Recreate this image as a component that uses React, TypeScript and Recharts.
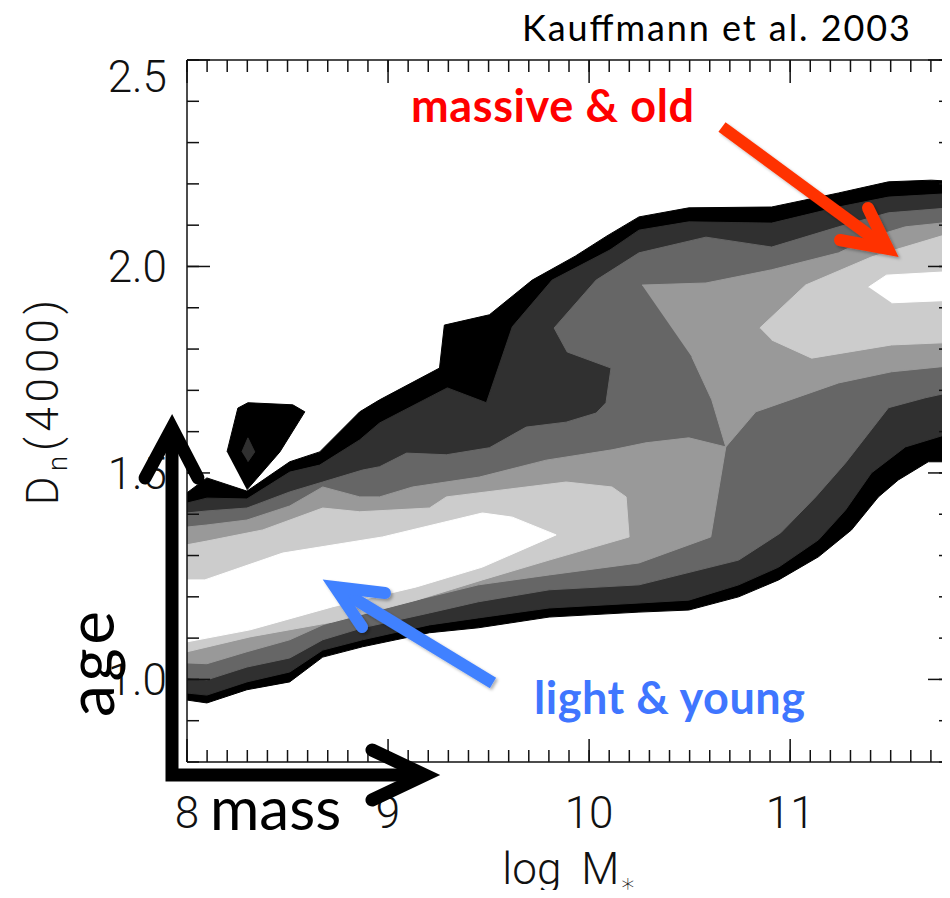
import React from "react";
import { ComposedChart, Scatter, XAxis, YAxis } from "recharts";

type Pt = [number, number];

// axes: log M* (x) against Dn(4000) (y)
const X_DOMAIN: [number, number] = [8, 11.8];
const Y_DOMAIN: [number, number] = [0.8, 2.5];
const X_LABEL_TICKS = [8, 9, 10, 11];
const Y_LABEL_TICKS = [1.0, 1.5, 2.0, 2.5];

const tenths = (from: number, to: number) => {
  const out: number[] = [];
  for (let v = Math.round(from * 10); v <= Math.round(to * 10); v++) out.push(v / 10);
  return out;
};
const X_MINOR_TICKS = tenths(8, 11.8);
const Y_MINOR_TICKS = tenths(0.8, 2.5);

// contour outlines, outermost level first (x = log M*, y = Dn(4000))
const BLACK_MAIN: Pt[] = [
  [8.0, 1.452], [8.099, 1.488], [8.298, 1.456], [8.511, 1.527], [8.66, 1.551], [8.859, 1.648],
  [8.958, 1.677], [9.256, 1.754], [9.28, 1.858], [9.504, 1.883], [9.717, 1.967], [9.931, 2.025],
  [10.089, 2.074], [10.248, 2.12], [10.496, 2.142], [10.908, 2.144], [11.241, 2.178], [11.489, 2.205],
  [11.702, 2.209], [11.85, 2.205], [11.85, 1.527], [11.687, 1.527], [11.538, 1.483], [11.439, 1.442],
  [11.305, 1.362], [11.141, 1.297], [10.943, 1.241], [10.744, 1.2], [10.496, 1.168], [10.248, 1.163],
  [9.801, 1.151], [9.449, 1.125], [9.206, 1.113], [8.873, 1.079], [8.675, 1.054], [8.511, 0.994],
  [8.298, 0.975], [8.099, 0.943], [8.0, 0.95],
];
const BLACK_ISLAND: Pt[] = [
  [8.199, 1.551], [8.253, 1.657], [8.303, 1.67], [8.526, 1.665], [8.586, 1.648], [8.462, 1.551], [8.298, 1.459],
];
const DARK_ISLAND: Pt[] = [[8.273, 1.551], [8.303, 1.585], [8.337, 1.551], [8.303, 1.527]];
const DARK_MAIN: Pt[] = [
  [8.0, 1.427], [8.099, 1.439], [8.298, 1.437], [8.511, 1.502], [8.66, 1.519], [8.859, 1.58],
  [8.958, 1.621], [9.295, 1.706], [9.489, 1.67], [9.618, 1.854], [9.816, 1.967], [10.104, 2.04],
  [10.248, 2.088], [10.496, 2.108], [10.908, 2.105], [11.241, 2.144], [11.489, 2.168], [11.85, 2.178],
  [11.85, 1.604], [11.573, 1.563], [11.404, 1.5], [11.275, 1.41], [11.141, 1.338], [10.943, 1.272],
  [10.744, 1.229], [10.496, 1.192], [10.248, 1.185], [9.801, 1.173], [9.449, 1.149], [9.206, 1.132],
  [8.873, 1.096], [8.675, 1.071], [8.511, 1.018], [8.298, 0.994], [8.099, 0.962], [8.0, 0.967],
];
const MID_MAIN: Pt[] = [
  [8.0, 1.403], [8.099, 1.408], [8.298, 1.415], [8.511, 1.454], [8.675, 1.478], [8.873, 1.507],
  [8.958, 1.515], [9.092, 1.548], [9.29, 1.544], [9.504, 1.561], [9.687, 1.611], [9.886, 1.623],
  [10.035, 1.645], [10.084, 1.67], [10.109, 1.754], [9.891, 1.793], [9.826, 1.851], [10.035, 1.967],
  [10.248, 2.033], [10.581, 2.071], [10.908, 2.047], [11.241, 2.096], [11.489, 2.13], [11.85, 2.144],
  [11.85, 1.701], [11.672, 1.682], [11.489, 1.658], [11.275, 1.524], [11.127, 1.442], [10.953, 1.355],
  [10.744, 1.289], [10.248, 1.229], [9.801, 1.217], [9.449, 1.188], [9.206, 1.161], [8.873, 1.125],
  [8.675, 1.096], [8.511, 1.052], [8.298, 1.03], [8.099, 0.999], [8.0, 1.004],
];
const PALE_LOW: Pt[] = [
  [8.0, 1.369], [8.099, 1.374], [8.298, 1.386], [8.511, 1.42], [8.675, 1.466], [8.859, 1.442],
  [8.958, 1.442], [9.122, 1.466], [9.454, 1.49], [9.787, 1.531], [10.114, 1.556], [10.283, 1.573],
  [10.496, 1.585], [10.68, 1.563], [10.605, 1.345], [10.248, 1.282], [9.801, 1.253], [9.449, 1.229],
  [9.206, 1.2], [8.873, 1.163], [8.675, 1.132], [8.511, 1.096], [8.298, 1.067], [8.099, 1.038], [8.0, 1.04],
];
const PALE_HIGH: Pt[] = [
  [10.263, 1.955], [10.581, 1.96], [10.908, 1.992], [11.241, 2.033], [11.404, 2.071], [11.573, 2.096],
  [11.85, 2.11], [11.85, 1.762], [11.504, 1.745], [11.241, 1.718], [10.829, 1.648], [10.68, 1.563],
  [10.61, 1.677], [10.511, 1.781],
];
const LIGHT_LOW: Pt[] = [
  [8.0, 1.326], [8.099, 1.335], [8.377, 1.362], [8.675, 1.415], [8.859, 1.406], [9.206, 1.415],
  [9.29, 1.442], [9.886, 1.478], [10.114, 1.466], [10.184, 1.442], [10.199, 1.345], [9.801, 1.289],
  [9.469, 1.241], [9.141, 1.192], [8.725, 1.139], [8.313, 1.103], [8.0, 1.067],
];
const LIGHT_HIGH: Pt[] = [
  [10.849, 1.851], [11.077, 1.955], [11.404, 2.023], [11.85, 2.088], [11.85, 1.817], [11.504, 1.81],
  [11.107, 1.778], [10.908, 1.822],
];
const PEAK_LOW: Pt[] = [
  [8.0, 1.241], [8.089, 1.241], [8.476, 1.306], [8.973, 1.345], [9.469, 1.403], [9.618, 1.393],
  [9.836, 1.35], [9.469, 1.272], [9.141, 1.224], [8.725, 1.176], [8.313, 1.12], [8.0, 1.091],
];
const PEAK_HIGH: Pt[] = [[11.39, 1.95], [11.479, 1.979], [11.85, 1.989], [11.85, 1.919], [11.504, 1.912]];

const SHADES = ["#000000", "#303030", "#666666", "#999999", "#cccccc", "#ffffff"];

const BANDS: { level: number; outline: Pt[] }[] = [
  { level: 0, outline: BLACK_MAIN },
  { level: 0, outline: BLACK_ISLAND },
  { level: 1, outline: DARK_MAIN },
  { level: 1, outline: DARK_ISLAND },
  { level: 2, outline: MID_MAIN },
  { level: 3, outline: PALE_LOW },
  { level: 3, outline: PALE_HIGH },
  { level: 4, outline: LIGHT_LOW },
  { level: 4, outline: LIGHT_HIGH },
  { level: 5, outline: PEAK_LOW },
  { level: 5, outline: PEAK_HIGH },
];

const toPoints = (outline: Pt[]) => outline.map(([x, y]) => ({ x, y }));

const AXIS_FONT = "Roboto, 'DejaVu Sans', sans-serif";
const NOTE_FONT = "Lato, 'Open Sans', sans-serif";
const INK = "#111";
const AXIS_LINE = { stroke: INK, strokeWidth: 1.5 };
const TICK_LINE = { stroke: INK, strokeWidth: 1.5 };
const TICK_TEXT = { fontFamily: AXIS_FONT, fontSize: 44, fontWeight: 300, fill: INK };

// frame runs just past the right edge of the view, as in the original figure
const CHART_W = 960;
const CHART_H = 898;

const noDot = () => <g />;
// tick marks only, no label
const bareTick = () => <g />;

function YTick({ x, y, payload }: any) {
  const v = payload.value as number;
  // the top label sits just inside the frame
  const shift = v >= 2.5 ? 16 : 0;
  return (
    <text x={x} y={y + shift} dy="0.355em" textAnchor="end" {...TICK_TEXT}>
      {v.toFixed(1)}
    </text>
  );
}

function XTitle({ viewBox }: any) {
  const vb = viewBox ?? { x: 187, y: 762, width: 764, height: 136 };
  return (
    <text x={vb.x + vb.width / 2} y={vb.y + 122} textAnchor="middle" {...TICK_TEXT}>
      log<tspan dx={20}>M</tspan>
      <tspan fontSize={26} dy={8}>∗</tspan>
    </text>
  );
}

function YTitle({ viewBox }: any) {
  const vb = viewBox ?? { x: 0, y: 60, width: 187, height: 702 };
  const cy = vb.y + vb.height / 2 - 11;
  return (
    <text transform={`translate(58,${cy}) rotate(-90)`} textAnchor="middle" letterSpacing={5} {...TICK_TEXT}>
      D<tspan fontSize={28} dy={9}>n</tspan>
      <tspan dy={-9}>(4000)</tspan>
    </text>
  );
}

function Annotations() {
  return (
    <svg
      width={950}
      height={898}
      style={{ position: "absolute", left: 0, top: 0, pointerEvents: "none" }}
    >
      <defs>
        <filter id="soft" x="-20%" y="-20%" width="140%" height="140%">
          <feDropShadow dx="2" dy="2" stdDeviation="1.5" floodColor="#000" floodOpacity="0.3" />
        </filter>
      </defs>
      <text x={522} y={41} fontFamily={NOTE_FONT} fontSize={36} fill="#000" textLength={388}>
        Kauffmann et al. 2003
      </text>

      <text x={411} y={122} fontFamily={NOTE_FONT} fontWeight={700} fontSize={45} fill="#ff0000" textLength={283}>
        massive &amp; old
      </text>
      <g stroke="#ff3300" strokeWidth={12} fill="none" filter="url(#soft)">
        <line x1={722} y1={127} x2={888} y2={249} />
        <polyline points="840,240 888,249 868,208" strokeLinecap="round" strokeLinejoin="miter" />
      </g>

      <text x={534} y={714} fontFamily={NOTE_FONT} fontWeight={700} fontSize={45} fill="#3f76ff" textLength={271}>
        light &amp; young
      </text>
      <g stroke="#4181ff" strokeWidth={12} fill="none" filter="url(#soft)">
        <line x1={493} y1={683} x2={335} y2={587} />
        <polyline points="385,593 335,587 362,627" strokeLinecap="round" strokeLinejoin="miter" />
      </g>

      <g stroke="#000" strokeWidth={13} fill="none">
        <path d="M172,428 V775 H425" strokeLinejoin="miter" />
        <polyline points="145,478 172,428 198,478" strokeLinecap="round" strokeLinejoin="miter" />
        <polyline points="372,750 425,775 372,800" strokeLinecap="round" strokeLinejoin="miter" />
      </g>
      <text transform="translate(114,717) rotate(-90)" fontFamily={NOTE_FONT} fontSize={64} fill="#000" textLength={106}>
        age
      </text>
      <text x={210} y={830} fontFamily={NOTE_FONT} fontSize={60} fill="#000">
        mass
      </text>
    </svg>
  );
}

export default function App() {
  return (
    <div
      style={{
        position: "relative",
        width: 950,
        height: 898,
        overflow: "hidden",
        margin: -8,
        background: "#fff",
      }}
    >
      <div style={{ width: CHART_W, height: CHART_H }}>
        <ComposedChart width={CHART_W} height={CHART_H} margin={{ top: 40, right: 0, bottom: 0, left: 0 }}>
          {BANDS.map((band, i) => (
            <Scatter
              key={`band-${i}`}
              xAxisId="b"
              yAxisId="l"
              data={toPoints(band.outline)}
              fill={SHADES[band.level]}
              shape={noDot}
              line={{ fill: SHADES[band.level], stroke: SHADES[band.level], strokeWidth: 1 }}
              lineType="joint"
              isAnimationActive={false}
              zIndex={100}
            />
          ))}

          <XAxis
            xAxisId="b"
            dataKey="x"
            type="number"
            domain={X_DOMAIN}
            allowDataOverflow
            ticks={X_LABEL_TICKS}
            interval={0}
            height={136}
            tickSize={-23}
            tickMargin={58}
            axisLine={AXIS_LINE}
            tickLine={TICK_LINE}
            tick={TICK_TEXT}
            label={<XTitle />}
          />
          <XAxis
            xAxisId="bm"
            dataKey="x"
            type="number"
            domain={X_DOMAIN}
            allowDataOverflow
            ticks={X_MINOR_TICKS}
            interval={0}
            mirror
            tickSize={12}
            tick={bareTick}
            axisLine={false}
            tickLine={TICK_LINE}
          />
          <XAxis
            xAxisId="t"
            dataKey="x"
            orientation="top"
            type="number"
            domain={X_DOMAIN}
            allowDataOverflow
            ticks={X_LABEL_TICKS}
            interval={0}
            height={20}
            tickSize={-23}
            tick={bareTick}
            axisLine={AXIS_LINE}
            tickLine={TICK_LINE}
          />
          <XAxis
            xAxisId="tm"
            dataKey="x"
            orientation="top"
            type="number"
            domain={X_DOMAIN}
            allowDataOverflow
            ticks={X_MINOR_TICKS}
            interval={0}
            mirror
            tickSize={12}
            tick={bareTick}
            axisLine={false}
            tickLine={TICK_LINE}
          />

          <YAxis
            yAxisId="l"
            dataKey="y"
            type="number"
            domain={Y_DOMAIN}
            allowDataOverflow
            ticks={Y_LABEL_TICKS}
            interval={0}
            width={187}
            tickSize={-23}
            tickMargin={43}
            axisLine={AXIS_LINE}
            tickLine={TICK_LINE}
            tick={<YTick />}
            label={<YTitle />}
          />
          <YAxis
            yAxisId="lm"
            dataKey="y"
            type="number"
            domain={Y_DOMAIN}
            allowDataOverflow
            ticks={Y_MINOR_TICKS}
            interval={0}
            mirror
            tickSize={12}
            tick={bareTick}
            axisLine={false}
            tickLine={TICK_LINE}
          />
          <YAxis
            yAxisId="r"
            dataKey="y"
            orientation="right"
            type="number"
            domain={Y_DOMAIN}
            allowDataOverflow
            ticks={Y_LABEL_TICKS}
            interval={0}
            width={9}
            tickSize={-23}
            tick={bareTick}
            axisLine={AXIS_LINE}
            tickLine={TICK_LINE}
          />
          <YAxis
            yAxisId="rm"
            dataKey="y"
            orientation="right"
            type="number"
            domain={Y_DOMAIN}
            allowDataOverflow
            ticks={Y_MINOR_TICKS}
            interval={0}
            mirror
            tickSize={12}
            tick={bareTick}
            axisLine={false}
            tickLine={TICK_LINE}
          />
        </ComposedChart>
      </div>
      <Annotations />
    </div>
  );
}
